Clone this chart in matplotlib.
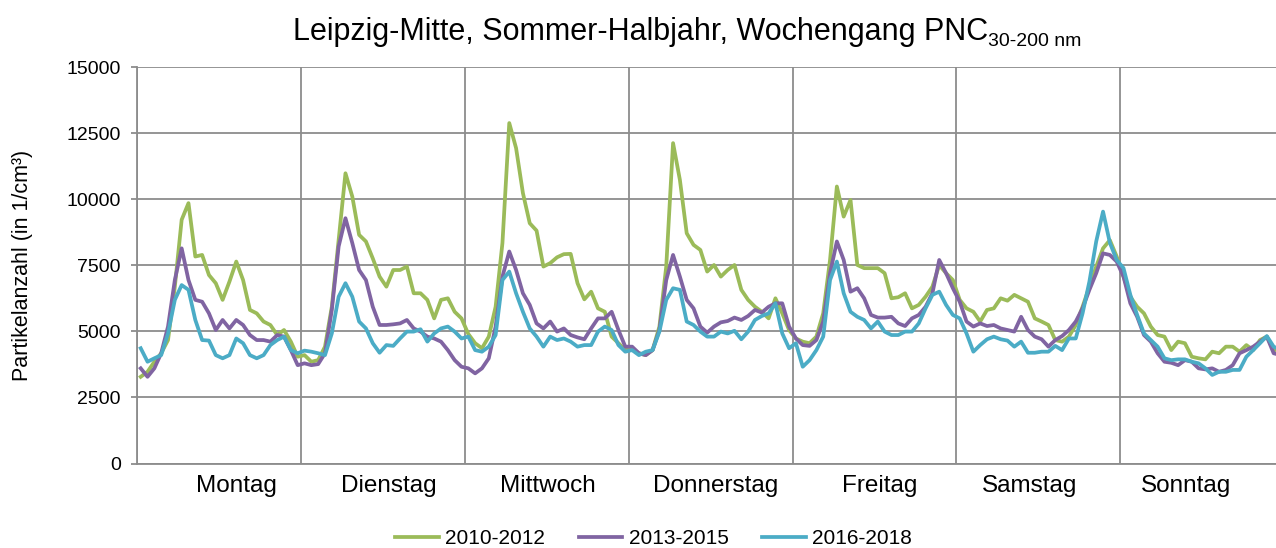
import numpy as np
import matplotlib
matplotlib.use("Agg")
import matplotlib.pyplot as plt

plt.rcParams['font.family'] = ['Liberation Sans', 'DejaVu Sans']

days = ["Montag", "Dienstag", "Mittwoch", "Donnerstag", "Freitag", "Samstag", "Sonntag"]
series_names = ["2010-2012", "2013-2015", "2016-2018"]

# hourly means, Mon 0h .. Sun 23h (one row per day)
pnc_2010_2012 = [
    3280, 3470, 3850, 4170, 4670, 6690, 9220, 9850, 7830, 7890, 7130, 6820, 6190, 6880, 7640, 6940, 5810, 5680, 5370, 5240, 4860, 5050, 4610, 4040,
    4100, 3850, 3910, 4420, 5930, 8460, 10980, 10100, 8650, 8400, 7760, 7070, 6690, 7320, 7320, 7450, 6440, 6440, 6190, 5490, 6190, 6250, 5740, 5490,
    4900, 4550, 4360, 4800, 5930, 8340, 12880, 11930, 10230, 9090, 8810, 7450, 7580, 7800, 7920, 7930, 6820, 6210, 6500, 5870, 5740, 4800, 4550, 4290,
    4360, 4170, 4100, 4290, 5180, 7450, 12120, 10730, 8710, 8270, 8080, 7260, 7510, 7070, 7320, 7510, 6570, 6190, 5930, 5740, 5490, 6250, 5680, 5050,
    4730, 4610, 4550, 4800, 5680, 7700, 10480, 9340, 9970, 7510, 7390, 7390, 7390, 7200, 6250, 6290, 6440, 5870, 6000, 6310, 6690, 7510, 7200, 6940,
    6190, 5870, 5740, 5370, 5810, 5870, 6250, 6160, 6380, 6250, 6120, 5490, 5370, 5240, 4670, 4610, 4800, 5240, 5930, 6690, 7450, 8140, 8450, 7830,
    7070, 6310, 5930, 5680, 5180, 4860, 4800, 4290, 4610, 4550, 4040, 3980, 3940, 4230, 4170, 4420, 4420, 4230, 4480, 4290, 4670, 4800, 4290, 4300,
]
pnc_2013_2015 = [
    3600, 3280, 3600, 4170, 5180, 6940, 8140, 6940, 6190, 6120, 5680, 5050, 5430, 5110, 5430, 5240, 4860, 4670, 4670, 4610, 4860, 4800, 4290, 3720,
    3790, 3720, 3760, 4170, 5810, 8210, 9280, 8340, 7320, 6940, 5930, 5240, 5240, 5265, 5300, 5430, 5110, 4990, 4800, 4730, 4610, 4290, 3910, 3660,
    3600, 3410, 3600, 3980, 5180, 7070, 8020, 7320, 6440, 6000, 5300, 5110, 5370, 4990, 5110, 4860, 4770, 4700, 5110, 5490, 5490, 5740, 5050, 4420,
    4420, 4170, 4100, 4290, 5050, 6940, 7890, 7070, 6190, 5870, 5180, 4950, 5180, 5340, 5390, 5520, 5430, 5580, 5810, 5710, 5930, 6060, 6060, 5180,
    4730, 4480, 4450, 4670, 5370, 7200, 8400, 7700, 6500, 6630, 6250, 5620, 5520, 5520, 5550, 5300, 5200, 5490, 5620, 5930, 6440, 7700, 7200, 6630,
    6120, 5370, 5180, 5300, 5200, 5240, 5110, 5050, 4990, 5550, 5050, 4800, 4700, 4420, 4670, 4820, 5050, 5370, 5870, 6570, 7200, 7950, 7890, 7640,
    7070, 6060, 5550, 4860, 4610, 4170, 3850, 3810, 3720, 3910, 3850, 3600, 3560, 3600, 3470, 3540, 3720, 4170, 4290, 4420, 4610, 4800, 4170, 4100,
]
pnc_2016_2018 = [
    4360, 3850, 3980, 4100, 4920, 6190, 6750, 6570, 5430, 4670, 4650, 4100, 3980, 4100, 4730, 4550, 4100, 3980, 4100, 4480, 4670, 4800, 4290, 4170,
    4270, 4230, 4170, 4100, 4920, 6310, 6820, 6310, 5370, 5110, 4550, 4190, 4480, 4450, 4730, 4990, 4990, 5080, 4610, 4920, 5110, 5180, 4990, 4730,
    4800, 4290, 4230, 4420, 4860, 6940, 7260, 6440, 5740, 5110, 4800, 4420, 4800, 4670, 4730, 4610, 4420, 4480, 4480, 4990, 5180, 5050, 4480, 4230,
    4290, 4100, 4230, 4290, 4990, 6190, 6630, 6570, 5370, 5240, 4990, 4800, 4800, 4990, 4920, 5020, 4700, 4990, 5430, 5580, 5680, 6060, 4920, 4360,
    4550, 3660, 3910, 4290, 4800, 6940, 7640, 6440, 5740, 5550, 5430, 5110, 5370, 4990, 4860, 4860, 4990, 4990, 5300, 5870, 6380, 6500, 6000, 5620,
    5490, 4920, 4230, 4480, 4700, 4800, 4700, 4650, 4420, 4610, 4190, 4190, 4230, 4230, 4450, 4290, 4730, 4730, 5680, 6880, 8400, 9530, 8350, 7700,
    7390, 6380, 5620, 4920, 4670, 4420, 3980, 3910, 3940, 3940, 3850, 3790, 3600, 3350, 3470, 3470, 3540, 3540, 4040, 4290, 4550, 4820, 4420, 4300,
]
colors = ["#9BBB59", "#8064A2", "#4BACC6"]

# where excel put the day names (in hours from monday 0h)
day_label_pos = [14.5, 36.8, 60.2, 84.8, 108.8, 130.8, 153.7]

W, H = 1276, 548
fig = plt.figure(figsize=(W / 100, H / 100), dpi=100)
ax = fig.add_axes([137.3 / W, 84.5 / H, 7 * 163.8 / W, 396.5 / H])

hours = np.arange(len(pnc_2010_2012)) + 0.5
for vals, name, c in zip([pnc_2010_2012, pnc_2013_2015, pnc_2016_2018], series_names, colors):
    ax.plot(hours, vals, color=c, lw=2.7, label=name, solid_joinstyle='round')

ax.set_xlim(0, 168)
ax.set_ylim(0, 15000)
ax.set_yticks(np.arange(0, 15001, 2500))
ax.set_xticks(np.arange(0, 169, 24))
ax.set_xticklabels([])
ax.set_xticks(day_label_pos, labels=days, minor=True)
ax.grid(True, which='major', color='#8c8c8c', lw=1.3)
ax.set_axisbelow(True)
for s in ['top', 'right']:
    ax.spines[s].set_visible(False)
for s in ['left', 'bottom']:
    ax.spines[s].set_color('#8c8c8c')
    ax.spines[s].set_linewidth(1.3)
ax.tick_params(axis='y', length=4, width=1.3, color='#8c8c8c', labelsize=14, pad=8)
ax.tick_params(axis='x', which='both', length=0)
ax.tick_params(axis='x', which='minor', labelsize=17.5, pad=8)

fig.text(22.7 / W, 1 - 265 / H, "Partikelanzahl (in 1/cm³)", rotation=90,
         ha='center', va='center', fontsize=15.5)

t = fig.text(293 / W, 1 - 40 / H, "Leipzig-Mitte, Sommer-Halbjahr, Wochengang PNC",
             ha='left', va='baseline', fontsize=22)
fig.canvas.draw()
bb = t.get_window_extent()
fig.text(bb.x1 / W, 1 - 46 / H, "30-200 nm", ha='left', va='baseline', fontsize=14)

fig.legend(loc='center', bbox_to_anchor=(653.6 / W, 1 - 539 / H), ncol=3, frameon=False,
           fontsize=15, handlelength=2.1, handletextpad=0.3, columnspacing=1.6)

fig.savefig("out.png", dpi=100)
